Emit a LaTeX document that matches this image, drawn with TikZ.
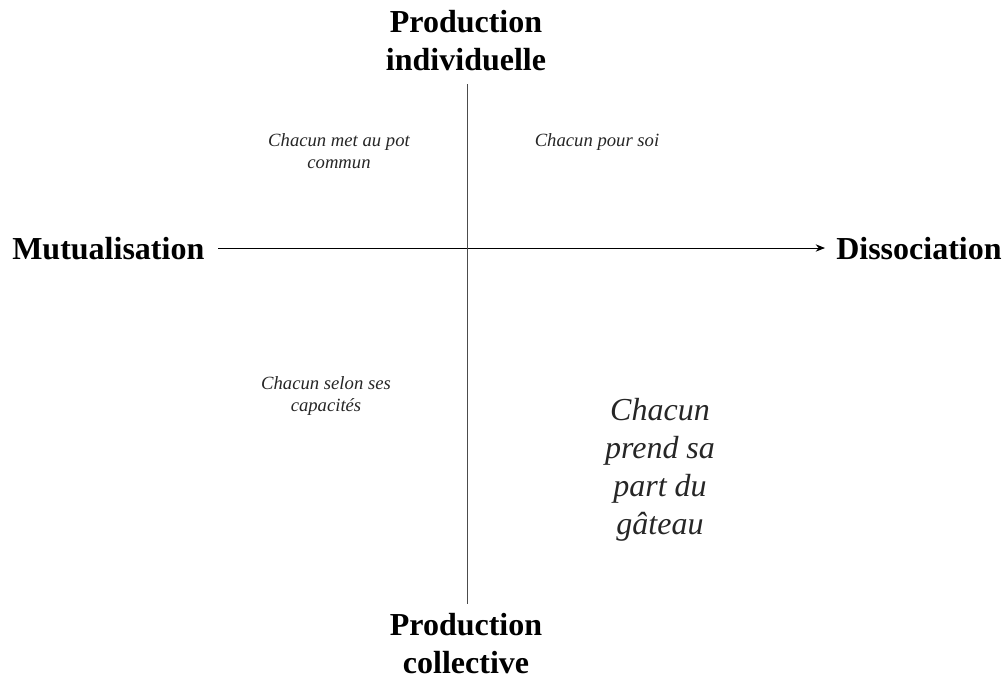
\documentclass[tikz,border=0pt]{standalone}
\usepackage{fontspec}
\setmainfont{Liberation Serif}
\usetikzlibrary{arrows.meta}
\begin{document}
\begin{tikzpicture}[x=0.75pt,y=-0.75pt,
  axislabel/.style={font=\fontsize{24}{28.5}\selectfont\bfseries, align=center, inner sep=0pt},
  smalltxt/.style={font=\fontsize{14}{16.5}\selectfont\itshape, align=center, inner sep=0pt, text=black!85},
  bigtxt/.style={font=\fontsize{24}{28.5}\selectfont\itshape, align=center, inner sep=0pt, text=black!85},
  axisline/.style={line width=0.7pt}]
\useasboundingbox (0,0) rectangle (1004,683);
\coordinate (hl) at (218,248);
\coordinate (hr) at (825,248);
\coordinate (vt) at (467,84);
\coordinate (vb) at (467,604);
\draw[axisline, -{Stealth[length=7pt,width=5.5pt]}] (hl) -- (hr);
\draw[axisline, black!70] (vt) -- (vb);
\node[axislabel] (top) at (466,41) {Production\\individuelle};
\node[axislabel] (bot) at (466,644) {Production\\collective};
\node[axislabel, anchor=west] (left) at (12,249) {Mutualisation};
\node[axislabel, anchor=west] (right) at (836,249) {Dissociation};
\node[smalltxt] (q1) at (339,151) {Chacun met au pot\\commun};
\node[smalltxt] (q2) at (597,142) {Chacun pour soi};
\node[smalltxt] (q3) at (326,396) {Chacun selon ses\\capacités};
\node[bigtxt] (q4) at (660,470) {Chacun\\prend sa\\part du\\gâteau};
\end{tikzpicture}
\end{document}
